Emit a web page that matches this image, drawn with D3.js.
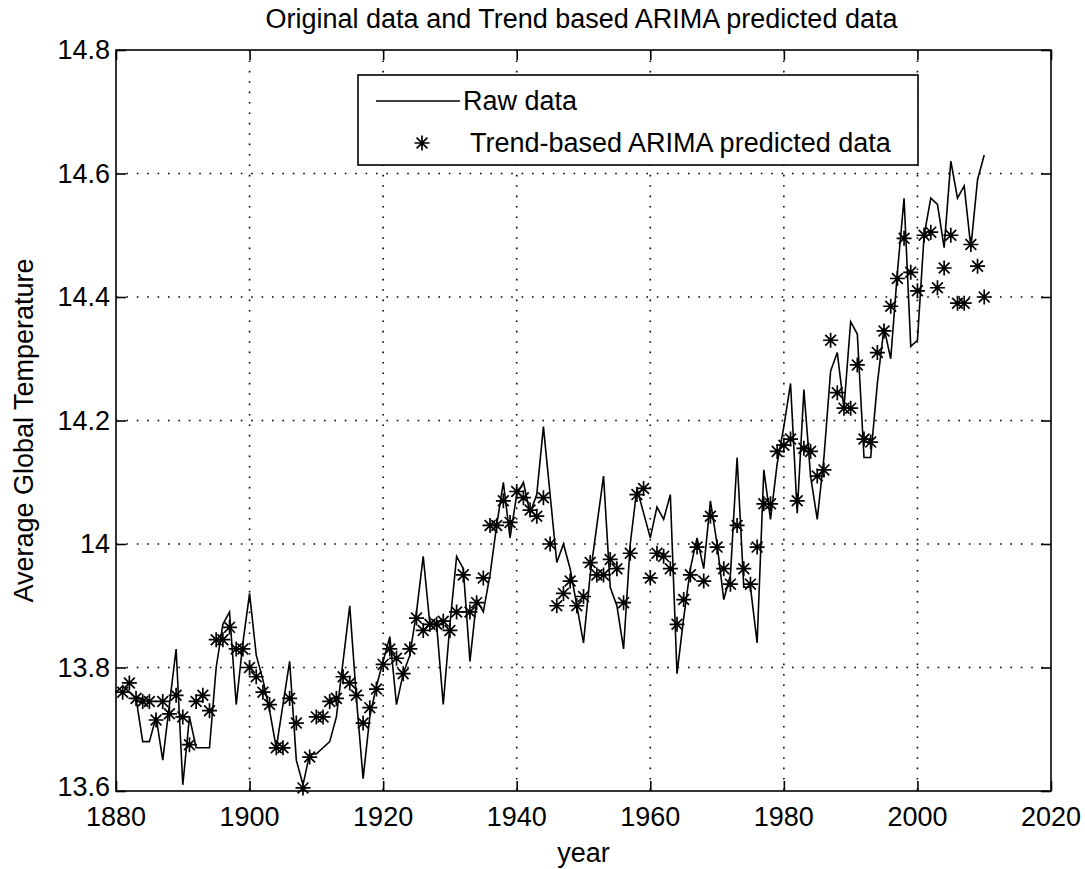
<!DOCTYPE html>
<html>
<head>
<meta charset="utf-8">
<script src="https://cdn.jsdelivr.net/npm/d3@7"></script>
<style>
  html, body { margin: 0; padding: 0; background: #fff; }
  svg { display: block; font-family: "Liberation Sans", Arial, Helvetica, sans-serif; }
</style>
</head>
<body>
<svg id="chart" width="1085" height="869"></svg>
<script>
// Annual average global temperature (raw series), 1880-2010
const rawYears = d3.range(1880, 2011);
const rawTemps = [
  13.76, 13.77, 13.76, 13.75, 13.68, 13.68, 13.72, 13.65, 13.74, 13.83,
  13.61, 13.72, 13.67, 13.67, 13.67, 13.80, 13.87, 13.89, 13.74, 13.84,
  13.92, 13.82, 13.78, 13.73, 13.67, 13.74, 13.81, 13.65, 13.61, 13.66,
  13.66, 13.67, 13.68, 13.72, 13.81, 13.90, 13.75, 13.62, 13.72, 13.77,
  13.81, 13.85, 13.74, 13.79, 13.82, 13.89, 13.98, 13.87, 13.87, 13.74,
  13.87, 13.98, 13.96, 13.81, 13.91, 13.89, 13.95, 14.03, 14.10, 14.01,
  14.08, 14.10, 14.05, 14.08, 14.19, 14.08, 13.97, 14.00, 13.96, 13.90,
  13.84, 13.95, 14.03, 14.11, 13.93, 13.90, 13.83, 14.00, 14.09, 14.05,
  14.01, 14.06, 14.04, 14.08, 13.79, 13.88, 13.96, 14.01, 13.96, 14.07,
  14.00, 13.91, 13.95, 14.14, 13.93, 13.93, 13.84, 14.12, 14.04, 14.13,
  14.19, 14.26, 14.05, 14.25, 14.11, 14.04, 14.14, 14.28, 14.31, 14.22,
  14.36, 14.34, 14.14, 14.14, 14.26, 14.35, 14.30, 14.44, 14.56, 14.32,
  14.33, 14.50, 14.56, 14.55, 14.48, 14.62, 14.56, 14.58, 14.48, 14.59,
  14.63
];

// Trend-based ARIMA one-step predictions, 1881-2010
const predYears = d3.range(1881, 2011);
const predTemps = [
         13.760, 13.775, 13.750, 13.745, 13.745, 13.715, 13.745, 13.725, 13.755,
  13.720, 13.675, 13.745, 13.755, 13.730, 13.845, 13.845, 13.865, 13.830, 13.830,
  13.800, 13.785, 13.760, 13.740, 13.670, 13.670, 13.750, 13.710, 13.605, 13.655,
  13.720, 13.720, 13.745, 13.750, 13.785, 13.775, 13.755, 13.710, 13.735, 13.765,
  13.805, 13.830, 13.815, 13.790, 13.830, 13.880, 13.860, 13.870, 13.870, 13.875,
  13.860, 13.890, 13.950, 13.890, 13.905, 13.945, 14.030, 14.030, 14.070, 14.035,
  14.085, 14.075, 14.055, 14.045, 14.075, 14.000, 13.900, 13.920, 13.940, 13.900,
  13.915, 13.970, 13.950, 13.950, 13.975, 13.960, 13.905, 13.985, 14.080, 14.090,
  13.945, 13.985, 13.980, 13.960, 13.870, 13.910, 13.950, 13.995, 13.940, 14.045,
  13.995, 13.960, 13.935, 14.030, 13.960, 13.935, 13.995, 14.065, 14.065, 14.150,
  14.160, 14.170, 14.070, 14.155, 14.150, 14.110, 14.120, 14.330, 14.245, 14.220,
  14.220, 14.290, 14.170, 14.165, 14.310, 14.345, 14.385, 14.430, 14.495, 14.440,
  14.410, 14.500, 14.505, 14.415, 14.447, 14.500, 14.390, 14.390, 14.485, 14.450,
  14.400
];

const xTicks = [1880, 1900, 1920, 1940, 1960, 1980, 2000, 2020];
const xTickLabels = ["1880", "1900", "1920", "1940", "1960", "1980", "2000", "2020"];
const yTicks = [13.6, 13.8, 14.0, 14.2, 14.4, 14.6, 14.8];
const yTickLabels = ["13.6", "13.8", "14", "14.2", "14.4", "14.6", "14.8"];

const titleText = "Original data and Trend based ARIMA predicted data";
const xLabelText = "year";
const yLabelText = "Average Global Temperature";
const legendLabels = ["Raw data", "Trend-based ARIMA predicted data"];

// ---- layout ----
const plot = { left: 116, top: 50, width: 935, height: 741 };
const svg = d3.select("#chart");

const x = d3.scaleLinear().domain([1880, 2020]).range([plot.left, plot.left + plot.width]);
const y = d3.scaleLinear().domain([13.6, 14.8]).range([plot.top + plot.height, plot.top]);

const fontSize = 27;
const ink = "#000";

// ---- grid ----
const grid = svg.append("g").attr("class", "grid")
  .attr("stroke", ink).attr("stroke-width", 1.6).attr("stroke-dasharray", "1.6,8.8");
grid.selectAll("line.gx").data(xTicks.slice(1, -1)).join("line")
  .attr("class", "gx")
  .attr("x1", d => x(d)).attr("x2", d => x(d))
  .attr("y1", plot.top).attr("y2", plot.top + plot.height);
grid.selectAll("line.gy").data(yTicks.slice(1, -1)).join("line")
  .attr("class", "gy")
  .attr("x1", plot.left).attr("x2", plot.left + plot.width)
  .attr("y1", d => y(d)).attr("y2", d => y(d));

// ---- raw series line ----
const line = d3.line()
  .x((d, i) => x(rawYears[i]))
  .y(d => y(d));
svg.append("path")
  .datum(rawTemps)
  .attr("fill", "none")
  .attr("stroke", ink)
  .attr("stroke-width", 1.6)
  .attr("d", line);

// ---- asterisk markers ----
function asterisk(g, r) {
  const d = r * 0.72;
  g.append("path")
    .attr("d", `M${-r},0H${r}M0,${-r}V${r}M${-d},${-d}L${d},${d}M${-d},${d}L${d},${-d}`)
    .attr("stroke", ink).attr("stroke-width", 1.7).attr("fill", "none");
}
const markers = svg.append("g");
predTemps.forEach((v, i) => {
  const g = markers.append("g").attr("transform", `translate(${x(predYears[i])},${y(v)})`);
  asterisk(g, 7.5);
});

// ---- axes frame with inward ticks on all four sides ----
const tickLen = 10;
svg.append("rect")
  .attr("x", plot.left).attr("y", plot.top)
  .attr("width", plot.width).attr("height", plot.height)
  .attr("fill", "none").attr("stroke", ink).attr("stroke-width", 1.6);

const xAxisBottom = d3.axisBottom(x).tickValues(xTicks).tickSize(-tickLen).tickFormat("");
const xAxisTop = d3.axisTop(x).tickValues(xTicks).tickSize(-tickLen).tickFormat("");
const yAxisLeft = d3.axisLeft(y).tickValues(yTicks).tickSize(-tickLen).tickFormat("");
const yAxisRight = d3.axisRight(y).tickValues(yTicks).tickSize(-tickLen).tickFormat("");

function styleAxis(sel) {
  sel.select(".domain").remove();
  sel.selectAll(".tick line").attr("stroke", ink).attr("stroke-width", 1.6);
}
svg.append("g").attr("transform", `translate(0,${plot.top + plot.height})`).call(xAxisBottom).call(styleAxis);
svg.append("g").attr("transform", `translate(0,${plot.top})`).call(xAxisTop).call(styleAxis);
svg.append("g").attr("transform", `translate(${plot.left},0)`).call(yAxisLeft).call(styleAxis);
svg.append("g").attr("transform", `translate(${plot.left + plot.width},0)`).call(yAxisRight).call(styleAxis);

// ---- tick labels ----
svg.append("g").selectAll("text").data(xTicks).join("text")
  .attr("x", d => x(d)).attr("y", plot.top + plot.height + 35)
  .attr("text-anchor", "middle")
  .attr("font-size", fontSize)
  .text((d, i) => xTickLabels[i]);

svg.append("g").selectAll("text").data(yTicks).join("text")
  .attr("x", plot.left - 6).attr("y", d => y(d))
  .attr("dy", d => d === 13.6 ? "0.2em" : "0.35em")
  .attr("text-anchor", "end")
  .attr("font-size", fontSize)
  .text((d, i) => yTickLabels[i]);

// ---- title and axis labels ----
svg.append("text")
  .attr("x", plot.left + plot.width / 2 - 2).attr("y", 28)
  .attr("text-anchor", "middle").attr("font-size", fontSize)
  .text(titleText);

svg.append("text")
  .attr("x", plot.left + plot.width / 2).attr("y", 862)
  .attr("text-anchor", "middle").attr("font-size", fontSize)
  .text(xLabelText);

svg.append("text")
  .attr("transform", `translate(33,${plot.top + plot.height / 2 + 10}) rotate(-90)`)
  .attr("text-anchor", "middle").attr("font-size", fontSize)
  .text(yLabelText);

// ---- legend ----
const legend = svg.append("g");
legend.append("rect")
  .attr("x", 358).attr("y", 75).attr("width", 560).attr("height", 90)
  .attr("fill", "#fff").attr("stroke", ink).attr("stroke-width", 1.6);
legend.append("line")
  .attr("x1", 376).attr("x2", 460).attr("y1", 101).attr("y2", 101)
  .attr("stroke", ink).attr("stroke-width", 1.6);
legend.append("text")
  .attr("x", 463).attr("y", 110).attr("font-size", fontSize)
  .text(legendLabels[0]);
asterisk(legend.append("g").attr("transform", "translate(422,143)"), 7.5);
legend.append("text")
  .attr("x", 470).attr("y", 152).attr("font-size", fontSize)
  .text(legendLabels[1]);
</script>
</body>
</html>
